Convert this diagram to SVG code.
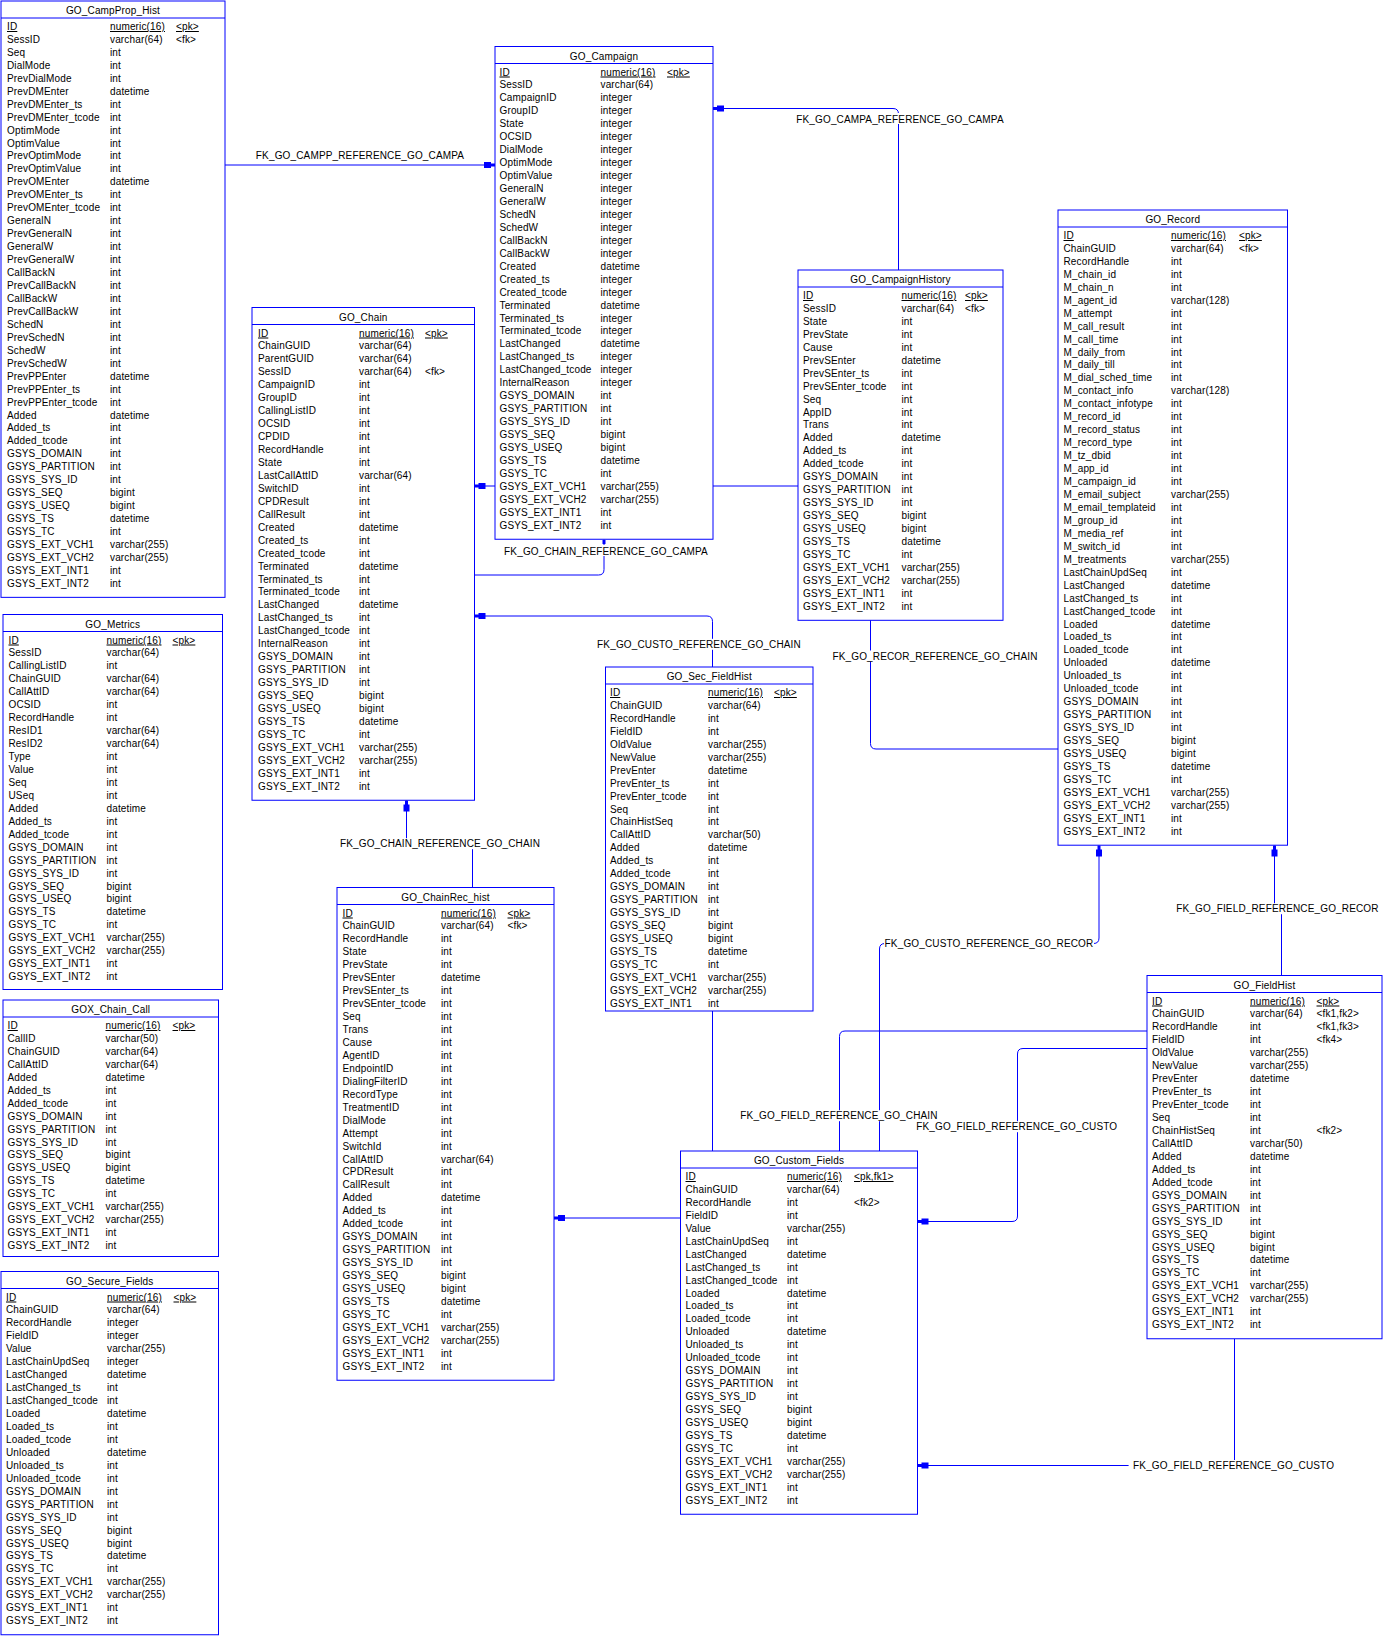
<svg xmlns="http://www.w3.org/2000/svg" width="1384" height="1638" viewBox="0 0 1384 1638">
<style>
.box{fill:#fff;stroke:#00f;stroke-width:1}
.hl{stroke:#00f;stroke-width:1}
text{font-family:"Liberation Sans",Arial,sans-serif;font-size:10px;letter-spacing:0.15px;fill:#000}
.t{text-anchor:middle}
.u{text-decoration:underline}
.cn{fill:none;stroke:#00f;stroke-width:1}
.lb{text-anchor:middle}
.bg{fill:#fff}
</style>
<defs>
<marker id="arr" markerUnits="userSpaceOnUse" markerWidth="12" markerHeight="8" refX="11" refY="4" orient="auto" viewBox="0 0 12 8">
<path d="M0,1 H7 V2.5 H11 V5.5 H7 V7 H0 Z" fill="#00f"/>
</marker>
</defs>
<rect width="1384" height="1638" fill="#fff"/>
<g id="connectors">
<path class="cn" d="M225,165 H495" marker-end="url(#arr)"/>
<path class="cn" d="M898.5,270 V114 Q898.5,108.5 893,108.5 H713" marker-end="url(#arr)"/>
<path class="cn" d="M474.5,575 H598.5 Q604,575 604,569.5 V539.5"/>
<rect x="602.5" y="540" width="3" height="4" fill="#00f"/>
<path class="cn" d="M1058,749 H876 Q870.5,749 870.5,743.5 V491.5 Q870.5,486 865,486 H474.5" marker-end="url(#arr)"/>
<path class="cn" d="M712.5,1151 V621.5 Q712.5,616 707,616 H474.5" marker-end="url(#arr)"/>
<path class="cn" d="M472.5,887.5 V843.5 H406.5 V800.5" marker-end="url(#arr)"/>
<path class="cn" d="M879.5,1151 V949 Q879.5,943.5 885,943.5 H1093.5 Q1099,943.5 1099,938 V845.5" marker-end="url(#arr)"/>
<path class="cn" d="M1147,1031 H845 Q839.5,1031 839.5,1036.5 V1212.5 Q839.5,1218 834,1218 H554" marker-end="url(#arr)"/>
<path class="cn" d="M1147,1048.5 H1023 Q1017.5,1048.5 1017.5,1054 V1216 Q1017.5,1221.5 1012,1221.5 H917.5" marker-end="url(#arr)"/>
<path class="cn" d="M1234.5,1339 V1465.5 H917.5" marker-end="url(#arr)"/>
<path class="cn" d="M1281.5,975.5 V908.5 H1274.5 V845.5" marker-end="url(#arr)"/>
<rect class="bg" x="795" y="113" width="210" height="11"/>
<rect class="bg" x="501" y="545" width="210" height="11"/>
<rect class="bg" x="830" y="650.5" width="210" height="11"/>
<rect class="bg" x="594" y="638.8" width="210" height="11"/>
<rect class="bg" x="335" y="838.2" width="210" height="11"/>
<rect class="bg" x="884" y="937.5" width="210" height="11"/>
<rect class="bg" x="734" y="1110.2" width="210" height="11"/>
<rect class="bg" x="911.7" y="1121.2" width="210" height="11"/>
<rect class="bg" x="1128.6" y="1460" width="210" height="11"/>
<rect class="bg" x="1172.5" y="903.2" width="210" height="11"/>
<text class="lb" x="360" y="159">FK_GO_CAMPP_REFERENCE_GO_CAMPA</text>
<text class="lb" x="900" y="122.5">FK_GO_CAMPA_REFERENCE_GO_CAMPA</text>
<text class="lb" x="606" y="554.5">FK_GO_CHAIN_REFERENCE_GO_CAMPA</text>
<text class="lb" x="935" y="659.5">FK_GO_RECOR_REFERENCE_GO_CHAIN</text>
<text class="lb" x="699" y="648">FK_GO_CUSTO_REFERENCE_GO_CHAIN</text>
<text class="lb" x="440" y="847.3">FK_GO_CHAIN_REFERENCE_GO_CHAIN</text>
<text class="lb" x="989" y="946.6">FK_GO_CUSTO_REFERENCE_GO_RECOR</text>
<text class="lb" x="839" y="1119.3">FK_GO_FIELD_REFERENCE_GO_CHAIN</text>
<text class="lb" x="1016.7" y="1130.3">FK_GO_FIELD_REFERENCE_GO_CUSTO</text>
<text class="lb" x="1233.6" y="1469">FK_GO_FIELD_REFERENCE_GO_CUSTO</text>
<text class="lb" x="1277.5" y="912.3">FK_GO_FIELD_REFERENCE_GO_RECOR</text>
</g>

<g id="GO_CampProp_Hist" transform="translate(1,1)">
<rect class="box" width="224" height="596.35"/>
<text class="t" x="112" y="13">GO_CampProp_Hist</text>
<line class="hl" x1="0" y1="17" x2="224" y2="17"/>
<text><tspan x="6" y="29" class="u">ID</tspan><tspan x="6" dy="12.95">SessID</tspan><tspan x="6" dy="12.95">Seq</tspan><tspan x="6" dy="12.95">DialMode</tspan><tspan x="6" dy="12.95">PrevDialMode</tspan><tspan x="6" dy="12.95">PrevDMEnter</tspan><tspan x="6" dy="12.95">PrevDMEnter_ts</tspan><tspan x="6" dy="12.95">PrevDMEnter_tcode</tspan><tspan x="6" dy="12.95">OptimMode</tspan><tspan x="6" dy="12.95">OptimValue</tspan><tspan x="6" dy="12.95">PrevOptimMode</tspan><tspan x="6" dy="12.95">PrevOptimValue</tspan><tspan x="6" dy="12.95">PrevOMEnter</tspan><tspan x="6" dy="12.95">PrevOMEnter_ts</tspan><tspan x="6" dy="12.95">PrevOMEnter_tcode</tspan><tspan x="6" dy="12.95">GeneralN</tspan><tspan x="6" dy="12.95">PrevGeneralN</tspan><tspan x="6" dy="12.95">GeneralW</tspan><tspan x="6" dy="12.95">PrevGeneralW</tspan><tspan x="6" dy="12.95">CallBackN</tspan><tspan x="6" dy="12.95">PrevCallBackN</tspan><tspan x="6" dy="12.95">CallBackW</tspan><tspan x="6" dy="12.95">PrevCallBackW</tspan><tspan x="6" dy="12.95">SchedN</tspan><tspan x="6" dy="12.95">PrevSchedN</tspan><tspan x="6" dy="12.95">SchedW</tspan><tspan x="6" dy="12.95">PrevSchedW</tspan><tspan x="6" dy="12.95">PrevPPEnter</tspan><tspan x="6" dy="12.95">PrevPPEnter_ts</tspan><tspan x="6" dy="12.95">PrevPPEnter_tcode</tspan><tspan x="6" dy="12.95">Added</tspan><tspan x="6" dy="12.95">Added_ts</tspan><tspan x="6" dy="12.95">Added_tcode</tspan><tspan x="6" dy="12.95">GSYS_DOMAIN</tspan><tspan x="6" dy="12.95">GSYS_PARTITION</tspan><tspan x="6" dy="12.95">GSYS_SYS_ID</tspan><tspan x="6" dy="12.95">GSYS_SEQ</tspan><tspan x="6" dy="12.95">GSYS_USEQ</tspan><tspan x="6" dy="12.95">GSYS_TS</tspan><tspan x="6" dy="12.95">GSYS_TC</tspan><tspan x="6" dy="12.95">GSYS_EXT_VCH1</tspan><tspan x="6" dy="12.95">GSYS_EXT_VCH2</tspan><tspan x="6" dy="12.95">GSYS_EXT_INT1</tspan><tspan x="6" dy="12.95">GSYS_EXT_INT2</tspan></text>
<text><tspan x="109" y="29" class="u">numeric(16)</tspan><tspan x="109" dy="12.95">varchar(64)</tspan><tspan x="109" dy="12.95">int</tspan><tspan x="109" dy="12.95">int</tspan><tspan x="109" dy="12.95">int</tspan><tspan x="109" dy="12.95">datetime</tspan><tspan x="109" dy="12.95">int</tspan><tspan x="109" dy="12.95">int</tspan><tspan x="109" dy="12.95">int</tspan><tspan x="109" dy="12.95">int</tspan><tspan x="109" dy="12.95">int</tspan><tspan x="109" dy="12.95">int</tspan><tspan x="109" dy="12.95">datetime</tspan><tspan x="109" dy="12.95">int</tspan><tspan x="109" dy="12.95">int</tspan><tspan x="109" dy="12.95">int</tspan><tspan x="109" dy="12.95">int</tspan><tspan x="109" dy="12.95">int</tspan><tspan x="109" dy="12.95">int</tspan><tspan x="109" dy="12.95">int</tspan><tspan x="109" dy="12.95">int</tspan><tspan x="109" dy="12.95">int</tspan><tspan x="109" dy="12.95">int</tspan><tspan x="109" dy="12.95">int</tspan><tspan x="109" dy="12.95">int</tspan><tspan x="109" dy="12.95">int</tspan><tspan x="109" dy="12.95">int</tspan><tspan x="109" dy="12.95">datetime</tspan><tspan x="109" dy="12.95">int</tspan><tspan x="109" dy="12.95">int</tspan><tspan x="109" dy="12.95">datetime</tspan><tspan x="109" dy="12.95">int</tspan><tspan x="109" dy="12.95">int</tspan><tspan x="109" dy="12.95">int</tspan><tspan x="109" dy="12.95">int</tspan><tspan x="109" dy="12.95">int</tspan><tspan x="109" dy="12.95">bigint</tspan><tspan x="109" dy="12.95">bigint</tspan><tspan x="109" dy="12.95">datetime</tspan><tspan x="109" dy="12.95">int</tspan><tspan x="109" dy="12.95">varchar(255)</tspan><tspan x="109" dy="12.95">varchar(255)</tspan><tspan x="109" dy="12.95">int</tspan><tspan x="109" dy="12.95">int</tspan></text>
<text><tspan x="175" y="29" class="u">&lt;pk&gt;</tspan><tspan x="175" y="41.95">&lt;fk&gt;</tspan></text>
</g>

<g id="GO_Campaign" transform="translate(495,46.5)">
<rect class="box" width="218" height="492.75"/>
<text class="t" x="109" y="13">GO_Campaign</text>
<line class="hl" x1="0" y1="17" x2="218" y2="17"/>
<text><tspan x="4.5" y="29" class="u">ID</tspan><tspan x="4.5" dy="12.95">SessID</tspan><tspan x="4.5" dy="12.95">CampaignID</tspan><tspan x="4.5" dy="12.95">GroupID</tspan><tspan x="4.5" dy="12.95">State</tspan><tspan x="4.5" dy="12.95">OCSID</tspan><tspan x="4.5" dy="12.95">DialMode</tspan><tspan x="4.5" dy="12.95">OptimMode</tspan><tspan x="4.5" dy="12.95">OptimValue</tspan><tspan x="4.5" dy="12.95">GeneralN</tspan><tspan x="4.5" dy="12.95">GeneralW</tspan><tspan x="4.5" dy="12.95">SchedN</tspan><tspan x="4.5" dy="12.95">SchedW</tspan><tspan x="4.5" dy="12.95">CallBackN</tspan><tspan x="4.5" dy="12.95">CallBackW</tspan><tspan x="4.5" dy="12.95">Created</tspan><tspan x="4.5" dy="12.95">Created_ts</tspan><tspan x="4.5" dy="12.95">Created_tcode</tspan><tspan x="4.5" dy="12.95">Terminated</tspan><tspan x="4.5" dy="12.95">Terminated_ts</tspan><tspan x="4.5" dy="12.95">Terminated_tcode</tspan><tspan x="4.5" dy="12.95">LastChanged</tspan><tspan x="4.5" dy="12.95">LastChanged_ts</tspan><tspan x="4.5" dy="12.95">LastChanged_tcode</tspan><tspan x="4.5" dy="12.95">InternalReason</tspan><tspan x="4.5" dy="12.95">GSYS_DOMAIN</tspan><tspan x="4.5" dy="12.95">GSYS_PARTITION</tspan><tspan x="4.5" dy="12.95">GSYS_SYS_ID</tspan><tspan x="4.5" dy="12.95">GSYS_SEQ</tspan><tspan x="4.5" dy="12.95">GSYS_USEQ</tspan><tspan x="4.5" dy="12.95">GSYS_TS</tspan><tspan x="4.5" dy="12.95">GSYS_TC</tspan><tspan x="4.5" dy="12.95">GSYS_EXT_VCH1</tspan><tspan x="4.5" dy="12.95">GSYS_EXT_VCH2</tspan><tspan x="4.5" dy="12.95">GSYS_EXT_INT1</tspan><tspan x="4.5" dy="12.95">GSYS_EXT_INT2</tspan></text>
<text><tspan x="105.5" y="29" class="u">numeric(16)</tspan><tspan x="105.5" dy="12.95">varchar(64)</tspan><tspan x="105.5" dy="12.95">integer</tspan><tspan x="105.5" dy="12.95">integer</tspan><tspan x="105.5" dy="12.95">integer</tspan><tspan x="105.5" dy="12.95">integer</tspan><tspan x="105.5" dy="12.95">integer</tspan><tspan x="105.5" dy="12.95">integer</tspan><tspan x="105.5" dy="12.95">integer</tspan><tspan x="105.5" dy="12.95">integer</tspan><tspan x="105.5" dy="12.95">integer</tspan><tspan x="105.5" dy="12.95">integer</tspan><tspan x="105.5" dy="12.95">integer</tspan><tspan x="105.5" dy="12.95">integer</tspan><tspan x="105.5" dy="12.95">integer</tspan><tspan x="105.5" dy="12.95">datetime</tspan><tspan x="105.5" dy="12.95">integer</tspan><tspan x="105.5" dy="12.95">integer</tspan><tspan x="105.5" dy="12.95">datetime</tspan><tspan x="105.5" dy="12.95">integer</tspan><tspan x="105.5" dy="12.95">integer</tspan><tspan x="105.5" dy="12.95">datetime</tspan><tspan x="105.5" dy="12.95">integer</tspan><tspan x="105.5" dy="12.95">integer</tspan><tspan x="105.5" dy="12.95">integer</tspan><tspan x="105.5" dy="12.95">int</tspan><tspan x="105.5" dy="12.95">int</tspan><tspan x="105.5" dy="12.95">int</tspan><tspan x="105.5" dy="12.95">bigint</tspan><tspan x="105.5" dy="12.95">bigint</tspan><tspan x="105.5" dy="12.95">datetime</tspan><tspan x="105.5" dy="12.95">int</tspan><tspan x="105.5" dy="12.95">varchar(255)</tspan><tspan x="105.5" dy="12.95">varchar(255)</tspan><tspan x="105.5" dy="12.95">int</tspan><tspan x="105.5" dy="12.95">int</tspan></text>
<text><tspan x="172" y="29" class="u">&lt;pk&gt;</tspan></text>
</g>

<g id="GO_Chain" transform="translate(252,307.5)">
<rect class="box" width="222.5" height="492.75"/>
<text class="t" x="111.25" y="13">GO_Chain</text>
<line class="hl" x1="0" y1="17" x2="222.5" y2="17"/>
<text><tspan x="6" y="29" class="u">ID</tspan><tspan x="6" dy="12.95">ChainGUID</tspan><tspan x="6" dy="12.95">ParentGUID</tspan><tspan x="6" dy="12.95">SessID</tspan><tspan x="6" dy="12.95">CampaignID</tspan><tspan x="6" dy="12.95">GroupID</tspan><tspan x="6" dy="12.95">CallingListID</tspan><tspan x="6" dy="12.95">OCSID</tspan><tspan x="6" dy="12.95">CPDID</tspan><tspan x="6" dy="12.95">RecordHandle</tspan><tspan x="6" dy="12.95">State</tspan><tspan x="6" dy="12.95">LastCallAttID</tspan><tspan x="6" dy="12.95">SwitchID</tspan><tspan x="6" dy="12.95">CPDResult</tspan><tspan x="6" dy="12.95">CallResult</tspan><tspan x="6" dy="12.95">Created</tspan><tspan x="6" dy="12.95">Created_ts</tspan><tspan x="6" dy="12.95">Created_tcode</tspan><tspan x="6" dy="12.95">Terminated</tspan><tspan x="6" dy="12.95">Terminated_ts</tspan><tspan x="6" dy="12.95">Terminated_tcode</tspan><tspan x="6" dy="12.95">LastChanged</tspan><tspan x="6" dy="12.95">LastChanged_ts</tspan><tspan x="6" dy="12.95">LastChanged_tcode</tspan><tspan x="6" dy="12.95">InternalReason</tspan><tspan x="6" dy="12.95">GSYS_DOMAIN</tspan><tspan x="6" dy="12.95">GSYS_PARTITION</tspan><tspan x="6" dy="12.95">GSYS_SYS_ID</tspan><tspan x="6" dy="12.95">GSYS_SEQ</tspan><tspan x="6" dy="12.95">GSYS_USEQ</tspan><tspan x="6" dy="12.95">GSYS_TS</tspan><tspan x="6" dy="12.95">GSYS_TC</tspan><tspan x="6" dy="12.95">GSYS_EXT_VCH1</tspan><tspan x="6" dy="12.95">GSYS_EXT_VCH2</tspan><tspan x="6" dy="12.95">GSYS_EXT_INT1</tspan><tspan x="6" dy="12.95">GSYS_EXT_INT2</tspan></text>
<text><tspan x="107" y="29" class="u">numeric(16)</tspan><tspan x="107" dy="12.95">varchar(64)</tspan><tspan x="107" dy="12.95">varchar(64)</tspan><tspan x="107" dy="12.95">varchar(64)</tspan><tspan x="107" dy="12.95">int</tspan><tspan x="107" dy="12.95">int</tspan><tspan x="107" dy="12.95">int</tspan><tspan x="107" dy="12.95">int</tspan><tspan x="107" dy="12.95">int</tspan><tspan x="107" dy="12.95">int</tspan><tspan x="107" dy="12.95">int</tspan><tspan x="107" dy="12.95">varchar(64)</tspan><tspan x="107" dy="12.95">int</tspan><tspan x="107" dy="12.95">int</tspan><tspan x="107" dy="12.95">int</tspan><tspan x="107" dy="12.95">datetime</tspan><tspan x="107" dy="12.95">int</tspan><tspan x="107" dy="12.95">int</tspan><tspan x="107" dy="12.95">datetime</tspan><tspan x="107" dy="12.95">int</tspan><tspan x="107" dy="12.95">int</tspan><tspan x="107" dy="12.95">datetime</tspan><tspan x="107" dy="12.95">int</tspan><tspan x="107" dy="12.95">int</tspan><tspan x="107" dy="12.95">int</tspan><tspan x="107" dy="12.95">int</tspan><tspan x="107" dy="12.95">int</tspan><tspan x="107" dy="12.95">int</tspan><tspan x="107" dy="12.95">bigint</tspan><tspan x="107" dy="12.95">bigint</tspan><tspan x="107" dy="12.95">datetime</tspan><tspan x="107" dy="12.95">int</tspan><tspan x="107" dy="12.95">varchar(255)</tspan><tspan x="107" dy="12.95">varchar(255)</tspan><tspan x="107" dy="12.95">int</tspan><tspan x="107" dy="12.95">int</tspan></text>
<text><tspan x="173" y="29" class="u">&lt;pk&gt;</tspan><tspan x="173" y="67.85">&lt;fk&gt;</tspan></text>
</g>

<g id="GO_Metrics" transform="translate(3,614.5)">
<rect class="box" width="219.5" height="375"/>
<text class="t" x="109.75" y="13">GO_Metrics</text>
<line class="hl" x1="0" y1="17" x2="219.5" y2="17"/>
<text><tspan x="5.5" y="29" class="u">ID</tspan><tspan x="5.5" dy="12.95">SessID</tspan><tspan x="5.5" dy="12.95">CallingListID</tspan><tspan x="5.5" dy="12.95">ChainGUID</tspan><tspan x="5.5" dy="12.95">CallAttID</tspan><tspan x="5.5" dy="12.95">OCSID</tspan><tspan x="5.5" dy="12.95">RecordHandle</tspan><tspan x="5.5" dy="12.95">ResID1</tspan><tspan x="5.5" dy="12.95">ResID2</tspan><tspan x="5.5" dy="12.95">Type</tspan><tspan x="5.5" dy="12.95">Value</tspan><tspan x="5.5" dy="12.95">Seq</tspan><tspan x="5.5" dy="12.95">USeq</tspan><tspan x="5.5" dy="12.95">Added</tspan><tspan x="5.5" dy="12.95">Added_ts</tspan><tspan x="5.5" dy="12.95">Added_tcode</tspan><tspan x="5.5" dy="12.95">GSYS_DOMAIN</tspan><tspan x="5.5" dy="12.95">GSYS_PARTITION</tspan><tspan x="5.5" dy="12.95">GSYS_SYS_ID</tspan><tspan x="5.5" dy="12.95">GSYS_SEQ</tspan><tspan x="5.5" dy="12.95">GSYS_USEQ</tspan><tspan x="5.5" dy="12.95">GSYS_TS</tspan><tspan x="5.5" dy="12.95">GSYS_TC</tspan><tspan x="5.5" dy="12.95">GSYS_EXT_VCH1</tspan><tspan x="5.5" dy="12.95">GSYS_EXT_VCH2</tspan><tspan x="5.5" dy="12.95">GSYS_EXT_INT1</tspan><tspan x="5.5" dy="12.95">GSYS_EXT_INT2</tspan></text>
<text><tspan x="103.5" y="29" class="u">numeric(16)</tspan><tspan x="103.5" dy="12.95">varchar(64)</tspan><tspan x="103.5" dy="12.95">int</tspan><tspan x="103.5" dy="12.95">varchar(64)</tspan><tspan x="103.5" dy="12.95">varchar(64)</tspan><tspan x="103.5" dy="12.95">int</tspan><tspan x="103.5" dy="12.95">int</tspan><tspan x="103.5" dy="12.95">varchar(64)</tspan><tspan x="103.5" dy="12.95">varchar(64)</tspan><tspan x="103.5" dy="12.95">int</tspan><tspan x="103.5" dy="12.95">int</tspan><tspan x="103.5" dy="12.95">int</tspan><tspan x="103.5" dy="12.95">int</tspan><tspan x="103.5" dy="12.95">datetime</tspan><tspan x="103.5" dy="12.95">int</tspan><tspan x="103.5" dy="12.95">int</tspan><tspan x="103.5" dy="12.95">int</tspan><tspan x="103.5" dy="12.95">int</tspan><tspan x="103.5" dy="12.95">int</tspan><tspan x="103.5" dy="12.95">bigint</tspan><tspan x="103.5" dy="12.95">bigint</tspan><tspan x="103.5" dy="12.95">datetime</tspan><tspan x="103.5" dy="12.95">int</tspan><tspan x="103.5" dy="12.95">varchar(255)</tspan><tspan x="103.5" dy="12.95">varchar(255)</tspan><tspan x="103.5" dy="12.95">int</tspan><tspan x="103.5" dy="12.95">int</tspan></text>
<text><tspan x="169.5" y="29" class="u">&lt;pk&gt;</tspan></text>
</g>

<g id="GOX_Chain_Call" transform="translate(3,1000)">
<rect class="box" width="215.5" height="256.5"/>
<text class="t" x="107.75" y="13">GOX_Chain_Call</text>
<line class="hl" x1="0" y1="17" x2="215.5" y2="17"/>
<text><tspan x="4.5" y="29" class="u">ID</tspan><tspan x="4.5" dy="12.95">CallID</tspan><tspan x="4.5" dy="12.95">ChainGUID</tspan><tspan x="4.5" dy="12.95">CallAttID</tspan><tspan x="4.5" dy="12.95">Added</tspan><tspan x="4.5" dy="12.95">Added_ts</tspan><tspan x="4.5" dy="12.95">Added_tcode</tspan><tspan x="4.5" dy="12.95">GSYS_DOMAIN</tspan><tspan x="4.5" dy="12.95">GSYS_PARTITION</tspan><tspan x="4.5" dy="12.95">GSYS_SYS_ID</tspan><tspan x="4.5" dy="12.95">GSYS_SEQ</tspan><tspan x="4.5" dy="12.95">GSYS_USEQ</tspan><tspan x="4.5" dy="12.95">GSYS_TS</tspan><tspan x="4.5" dy="12.95">GSYS_TC</tspan><tspan x="4.5" dy="12.95">GSYS_EXT_VCH1</tspan><tspan x="4.5" dy="12.95">GSYS_EXT_VCH2</tspan><tspan x="4.5" dy="12.95">GSYS_EXT_INT1</tspan><tspan x="4.5" dy="12.95">GSYS_EXT_INT2</tspan></text>
<text><tspan x="102.5" y="29" class="u">numeric(16)</tspan><tspan x="102.5" dy="12.95">varchar(50)</tspan><tspan x="102.5" dy="12.95">varchar(64)</tspan><tspan x="102.5" dy="12.95">varchar(64)</tspan><tspan x="102.5" dy="12.95">datetime</tspan><tspan x="102.5" dy="12.95">int</tspan><tspan x="102.5" dy="12.95">int</tspan><tspan x="102.5" dy="12.95">int</tspan><tspan x="102.5" dy="12.95">int</tspan><tspan x="102.5" dy="12.95">int</tspan><tspan x="102.5" dy="12.95">bigint</tspan><tspan x="102.5" dy="12.95">bigint</tspan><tspan x="102.5" dy="12.95">datetime</tspan><tspan x="102.5" dy="12.95">int</tspan><tspan x="102.5" dy="12.95">varchar(255)</tspan><tspan x="102.5" dy="12.95">varchar(255)</tspan><tspan x="102.5" dy="12.95">int</tspan><tspan x="102.5" dy="12.95">int</tspan></text>
<text><tspan x="169.5" y="29" class="u">&lt;pk&gt;</tspan></text>
</g>

<g id="GO_Secure_Fields" transform="translate(1,1271.5)">
<rect class="box" width="217.5" height="363.25"/>
<text class="t" x="108.75" y="13">GO_Secure_Fields</text>
<line class="hl" x1="0" y1="17" x2="217.5" y2="17"/>
<text><tspan x="5" y="29" class="u">ID</tspan><tspan x="5" dy="12.95">ChainGUID</tspan><tspan x="5" dy="12.95">RecordHandle</tspan><tspan x="5" dy="12.95">FieldID</tspan><tspan x="5" dy="12.95">Value</tspan><tspan x="5" dy="12.95">LastChainUpdSeq</tspan><tspan x="5" dy="12.95">LastChanged</tspan><tspan x="5" dy="12.95">LastChanged_ts</tspan><tspan x="5" dy="12.95">LastChanged_tcode</tspan><tspan x="5" dy="12.95">Loaded</tspan><tspan x="5" dy="12.95">Loaded_ts</tspan><tspan x="5" dy="12.95">Loaded_tcode</tspan><tspan x="5" dy="12.95">Unloaded</tspan><tspan x="5" dy="12.95">Unloaded_ts</tspan><tspan x="5" dy="12.95">Unloaded_tcode</tspan><tspan x="5" dy="12.95">GSYS_DOMAIN</tspan><tspan x="5" dy="12.95">GSYS_PARTITION</tspan><tspan x="5" dy="12.95">GSYS_SYS_ID</tspan><tspan x="5" dy="12.95">GSYS_SEQ</tspan><tspan x="5" dy="12.95">GSYS_USEQ</tspan><tspan x="5" dy="12.95">GSYS_TS</tspan><tspan x="5" dy="12.95">GSYS_TC</tspan><tspan x="5" dy="12.95">GSYS_EXT_VCH1</tspan><tspan x="5" dy="12.95">GSYS_EXT_VCH2</tspan><tspan x="5" dy="12.95">GSYS_EXT_INT1</tspan><tspan x="5" dy="12.95">GSYS_EXT_INT2</tspan></text>
<text><tspan x="106" y="29" class="u">numeric(16)</tspan><tspan x="106" dy="12.95">varchar(64)</tspan><tspan x="106" dy="12.95">integer</tspan><tspan x="106" dy="12.95">integer</tspan><tspan x="106" dy="12.95">varchar(255)</tspan><tspan x="106" dy="12.95">integer</tspan><tspan x="106" dy="12.95">datetime</tspan><tspan x="106" dy="12.95">int</tspan><tspan x="106" dy="12.95">int</tspan><tspan x="106" dy="12.95">datetime</tspan><tspan x="106" dy="12.95">int</tspan><tspan x="106" dy="12.95">int</tspan><tspan x="106" dy="12.95">datetime</tspan><tspan x="106" dy="12.95">int</tspan><tspan x="106" dy="12.95">int</tspan><tspan x="106" dy="12.95">int</tspan><tspan x="106" dy="12.95">int</tspan><tspan x="106" dy="12.95">int</tspan><tspan x="106" dy="12.95">bigint</tspan><tspan x="106" dy="12.95">bigint</tspan><tspan x="106" dy="12.95">datetime</tspan><tspan x="106" dy="12.95">int</tspan><tspan x="106" dy="12.95">varchar(255)</tspan><tspan x="106" dy="12.95">varchar(255)</tspan><tspan x="106" dy="12.95">int</tspan><tspan x="106" dy="12.95">int</tspan></text>
<text><tspan x="172.5" y="29" class="u">&lt;pk&gt;</tspan></text>
</g>

<g id="GO_CampaignHistory" transform="translate(798,270)">
<rect class="box" width="205" height="350.3"/>
<text class="t" x="102.5" y="13">GO_CampaignHistory</text>
<line class="hl" x1="0" y1="17" x2="205" y2="17"/>
<text><tspan x="5" y="29" class="u">ID</tspan><tspan x="5" dy="12.95">SessID</tspan><tspan x="5" dy="12.95">State</tspan><tspan x="5" dy="12.95">PrevState</tspan><tspan x="5" dy="12.95">Cause</tspan><tspan x="5" dy="12.95">PrevSEnter</tspan><tspan x="5" dy="12.95">PrevSEnter_ts</tspan><tspan x="5" dy="12.95">PrevSEnter_tcode</tspan><tspan x="5" dy="12.95">Seq</tspan><tspan x="5" dy="12.95">AppID</tspan><tspan x="5" dy="12.95">Trans</tspan><tspan x="5" dy="12.95">Added</tspan><tspan x="5" dy="12.95">Added_ts</tspan><tspan x="5" dy="12.95">Added_tcode</tspan><tspan x="5" dy="12.95">GSYS_DOMAIN</tspan><tspan x="5" dy="12.95">GSYS_PARTITION</tspan><tspan x="5" dy="12.95">GSYS_SYS_ID</tspan><tspan x="5" dy="12.95">GSYS_SEQ</tspan><tspan x="5" dy="12.95">GSYS_USEQ</tspan><tspan x="5" dy="12.95">GSYS_TS</tspan><tspan x="5" dy="12.95">GSYS_TC</tspan><tspan x="5" dy="12.95">GSYS_EXT_VCH1</tspan><tspan x="5" dy="12.95">GSYS_EXT_VCH2</tspan><tspan x="5" dy="12.95">GSYS_EXT_INT1</tspan><tspan x="5" dy="12.95">GSYS_EXT_INT2</tspan></text>
<text><tspan x="103.5" y="29" class="u">numeric(16)</tspan><tspan x="103.5" dy="12.95">varchar(64)</tspan><tspan x="103.5" dy="12.95">int</tspan><tspan x="103.5" dy="12.95">int</tspan><tspan x="103.5" dy="12.95">int</tspan><tspan x="103.5" dy="12.95">datetime</tspan><tspan x="103.5" dy="12.95">int</tspan><tspan x="103.5" dy="12.95">int</tspan><tspan x="103.5" dy="12.95">int</tspan><tspan x="103.5" dy="12.95">int</tspan><tspan x="103.5" dy="12.95">int</tspan><tspan x="103.5" dy="12.95">datetime</tspan><tspan x="103.5" dy="12.95">int</tspan><tspan x="103.5" dy="12.95">int</tspan><tspan x="103.5" dy="12.95">int</tspan><tspan x="103.5" dy="12.95">int</tspan><tspan x="103.5" dy="12.95">int</tspan><tspan x="103.5" dy="12.95">bigint</tspan><tspan x="103.5" dy="12.95">bigint</tspan><tspan x="103.5" dy="12.95">datetime</tspan><tspan x="103.5" dy="12.95">int</tspan><tspan x="103.5" dy="12.95">varchar(255)</tspan><tspan x="103.5" dy="12.95">varchar(255)</tspan><tspan x="103.5" dy="12.95">int</tspan><tspan x="103.5" dy="12.95">int</tspan></text>
<text><tspan x="167" y="29" class="u">&lt;pk&gt;</tspan><tspan x="167" y="41.95">&lt;fk&gt;</tspan></text>
</g>

<g id="GO_Record" transform="translate(1058,210)">
<rect class="box" width="229.5" height="635.2"/>
<text class="t" x="114.75" y="13">GO_Record</text>
<line class="hl" x1="0" y1="17" x2="229.5" y2="17"/>
<text><tspan x="5.5" y="29" class="u">ID</tspan><tspan x="5.5" dy="12.95">ChainGUID</tspan><tspan x="5.5" dy="12.95">RecordHandle</tspan><tspan x="5.5" dy="12.95">M_chain_id</tspan><tspan x="5.5" dy="12.95">M_chain_n</tspan><tspan x="5.5" dy="12.95">M_agent_id</tspan><tspan x="5.5" dy="12.95">M_attempt</tspan><tspan x="5.5" dy="12.95">M_call_result</tspan><tspan x="5.5" dy="12.95">M_call_time</tspan><tspan x="5.5" dy="12.95">M_daily_from</tspan><tspan x="5.5" dy="12.95">M_daily_till</tspan><tspan x="5.5" dy="12.95">M_dial_sched_time</tspan><tspan x="5.5" dy="12.95">M_contact_info</tspan><tspan x="5.5" dy="12.95">M_contact_infotype</tspan><tspan x="5.5" dy="12.95">M_record_id</tspan><tspan x="5.5" dy="12.95">M_record_status</tspan><tspan x="5.5" dy="12.95">M_record_type</tspan><tspan x="5.5" dy="12.95">M_tz_dbid</tspan><tspan x="5.5" dy="12.95">M_app_id</tspan><tspan x="5.5" dy="12.95">M_campaign_id</tspan><tspan x="5.5" dy="12.95">M_email_subject</tspan><tspan x="5.5" dy="12.95">M_email_templateid</tspan><tspan x="5.5" dy="12.95">M_group_id</tspan><tspan x="5.5" dy="12.95">M_media_ref</tspan><tspan x="5.5" dy="12.95">M_switch_id</tspan><tspan x="5.5" dy="12.95">M_treatments</tspan><tspan x="5.5" dy="12.95">LastChainUpdSeq</tspan><tspan x="5.5" dy="12.95">LastChanged</tspan><tspan x="5.5" dy="12.95">LastChanged_ts</tspan><tspan x="5.5" dy="12.95">LastChanged_tcode</tspan><tspan x="5.5" dy="12.95">Loaded</tspan><tspan x="5.5" dy="12.95">Loaded_ts</tspan><tspan x="5.5" dy="12.95">Loaded_tcode</tspan><tspan x="5.5" dy="12.95">Unloaded</tspan><tspan x="5.5" dy="12.95">Unloaded_ts</tspan><tspan x="5.5" dy="12.95">Unloaded_tcode</tspan><tspan x="5.5" dy="12.95">GSYS_DOMAIN</tspan><tspan x="5.5" dy="12.95">GSYS_PARTITION</tspan><tspan x="5.5" dy="12.95">GSYS_SYS_ID</tspan><tspan x="5.5" dy="12.95">GSYS_SEQ</tspan><tspan x="5.5" dy="12.95">GSYS_USEQ</tspan><tspan x="5.5" dy="12.95">GSYS_TS</tspan><tspan x="5.5" dy="12.95">GSYS_TC</tspan><tspan x="5.5" dy="12.95">GSYS_EXT_VCH1</tspan><tspan x="5.5" dy="12.95">GSYS_EXT_VCH2</tspan><tspan x="5.5" dy="12.95">GSYS_EXT_INT1</tspan><tspan x="5.5" dy="12.95">GSYS_EXT_INT2</tspan></text>
<text><tspan x="113" y="29" class="u">numeric(16)</tspan><tspan x="113" dy="12.95">varchar(64)</tspan><tspan x="113" dy="12.95">int</tspan><tspan x="113" dy="12.95">int</tspan><tspan x="113" dy="12.95">int</tspan><tspan x="113" dy="12.95">varchar(128)</tspan><tspan x="113" dy="12.95">int</tspan><tspan x="113" dy="12.95">int</tspan><tspan x="113" dy="12.95">int</tspan><tspan x="113" dy="12.95">int</tspan><tspan x="113" dy="12.95">int</tspan><tspan x="113" dy="12.95">int</tspan><tspan x="113" dy="12.95">varchar(128)</tspan><tspan x="113" dy="12.95">int</tspan><tspan x="113" dy="12.95">int</tspan><tspan x="113" dy="12.95">int</tspan><tspan x="113" dy="12.95">int</tspan><tspan x="113" dy="12.95">int</tspan><tspan x="113" dy="12.95">int</tspan><tspan x="113" dy="12.95">int</tspan><tspan x="113" dy="12.95">varchar(255)</tspan><tspan x="113" dy="12.95">int</tspan><tspan x="113" dy="12.95">int</tspan><tspan x="113" dy="12.95">int</tspan><tspan x="113" dy="12.95">int</tspan><tspan x="113" dy="12.95">varchar(255)</tspan><tspan x="113" dy="12.95">int</tspan><tspan x="113" dy="12.95">datetime</tspan><tspan x="113" dy="12.95">int</tspan><tspan x="113" dy="12.95">int</tspan><tspan x="113" dy="12.95">datetime</tspan><tspan x="113" dy="12.95">int</tspan><tspan x="113" dy="12.95">int</tspan><tspan x="113" dy="12.95">datetime</tspan><tspan x="113" dy="12.95">int</tspan><tspan x="113" dy="12.95">int</tspan><tspan x="113" dy="12.95">int</tspan><tspan x="113" dy="12.95">int</tspan><tspan x="113" dy="12.95">int</tspan><tspan x="113" dy="12.95">bigint</tspan><tspan x="113" dy="12.95">bigint</tspan><tspan x="113" dy="12.95">datetime</tspan><tspan x="113" dy="12.95">int</tspan><tspan x="113" dy="12.95">varchar(255)</tspan><tspan x="113" dy="12.95">varchar(255)</tspan><tspan x="113" dy="12.95">int</tspan><tspan x="113" dy="12.95">int</tspan></text>
<text><tspan x="181" y="29" class="u">&lt;pk&gt;</tspan><tspan x="181" y="41.95">&lt;fk&gt;</tspan></text>
</g>

<g id="GO_Sec_FieldHist" transform="translate(605.5,667)">
<rect class="box" width="207.5" height="344"/>
<text class="t" x="103.75" y="13">GO_Sec_FieldHist</text>
<line class="hl" x1="0" y1="17" x2="207.5" y2="17"/>
<text><tspan x="4.5" y="29" class="u">ID</tspan><tspan x="4.5" dy="12.95">ChainGUID</tspan><tspan x="4.5" dy="12.95">RecordHandle</tspan><tspan x="4.5" dy="12.95">FieldID</tspan><tspan x="4.5" dy="12.95">OldValue</tspan><tspan x="4.5" dy="12.95">NewValue</tspan><tspan x="4.5" dy="12.95">PrevEnter</tspan><tspan x="4.5" dy="12.95">PrevEnter_ts</tspan><tspan x="4.5" dy="12.95">PrevEnter_tcode</tspan><tspan x="4.5" dy="12.95">Seq</tspan><tspan x="4.5" dy="12.95">ChainHistSeq</tspan><tspan x="4.5" dy="12.95">CallAttID</tspan><tspan x="4.5" dy="12.95">Added</tspan><tspan x="4.5" dy="12.95">Added_ts</tspan><tspan x="4.5" dy="12.95">Added_tcode</tspan><tspan x="4.5" dy="12.95">GSYS_DOMAIN</tspan><tspan x="4.5" dy="12.95">GSYS_PARTITION</tspan><tspan x="4.5" dy="12.95">GSYS_SYS_ID</tspan><tspan x="4.5" dy="12.95">GSYS_SEQ</tspan><tspan x="4.5" dy="12.95">GSYS_USEQ</tspan><tspan x="4.5" dy="12.95">GSYS_TS</tspan><tspan x="4.5" dy="12.95">GSYS_TC</tspan><tspan x="4.5" dy="12.95">GSYS_EXT_VCH1</tspan><tspan x="4.5" dy="12.95">GSYS_EXT_VCH2</tspan><tspan x="4.5" dy="12.95">GSYS_EXT_INT1</tspan></text>
<text><tspan x="102.5" y="29" class="u">numeric(16)</tspan><tspan x="102.5" dy="12.95">varchar(64)</tspan><tspan x="102.5" dy="12.95">int</tspan><tspan x="102.5" dy="12.95">int</tspan><tspan x="102.5" dy="12.95">varchar(255)</tspan><tspan x="102.5" dy="12.95">varchar(255)</tspan><tspan x="102.5" dy="12.95">datetime</tspan><tspan x="102.5" dy="12.95">int</tspan><tspan x="102.5" dy="12.95">int</tspan><tspan x="102.5" dy="12.95">int</tspan><tspan x="102.5" dy="12.95">int</tspan><tspan x="102.5" dy="12.95">varchar(50)</tspan><tspan x="102.5" dy="12.95">datetime</tspan><tspan x="102.5" dy="12.95">int</tspan><tspan x="102.5" dy="12.95">int</tspan><tspan x="102.5" dy="12.95">int</tspan><tspan x="102.5" dy="12.95">int</tspan><tspan x="102.5" dy="12.95">int</tspan><tspan x="102.5" dy="12.95">bigint</tspan><tspan x="102.5" dy="12.95">bigint</tspan><tspan x="102.5" dy="12.95">datetime</tspan><tspan x="102.5" dy="12.95">int</tspan><tspan x="102.5" dy="12.95">varchar(255)</tspan><tspan x="102.5" dy="12.95">varchar(255)</tspan><tspan x="102.5" dy="12.95">int</tspan></text>
<text><tspan x="168.5" y="29" class="u">&lt;pk&gt;</tspan></text>
</g>

<g id="GO_ChainRec_hist" transform="translate(337,887.5)">
<rect class="box" width="217" height="492.75"/>
<text class="t" x="108.5" y="13">GO_ChainRec_hist</text>
<line class="hl" x1="0" y1="17" x2="217" y2="17"/>
<text><tspan x="5.5" y="29" class="u">ID</tspan><tspan x="5.5" dy="12.95">ChainGUID</tspan><tspan x="5.5" dy="12.95">RecordHandle</tspan><tspan x="5.5" dy="12.95">State</tspan><tspan x="5.5" dy="12.95">PrevState</tspan><tspan x="5.5" dy="12.95">PrevSEnter</tspan><tspan x="5.5" dy="12.95">PrevSEnter_ts</tspan><tspan x="5.5" dy="12.95">PrevSEnter_tcode</tspan><tspan x="5.5" dy="12.95">Seq</tspan><tspan x="5.5" dy="12.95">Trans</tspan><tspan x="5.5" dy="12.95">Cause</tspan><tspan x="5.5" dy="12.95">AgentID</tspan><tspan x="5.5" dy="12.95">EndpointID</tspan><tspan x="5.5" dy="12.95">DialingFilterID</tspan><tspan x="5.5" dy="12.95">RecordType</tspan><tspan x="5.5" dy="12.95">TreatmentID</tspan><tspan x="5.5" dy="12.95">DialMode</tspan><tspan x="5.5" dy="12.95">Attempt</tspan><tspan x="5.5" dy="12.95">SwitchId</tspan><tspan x="5.5" dy="12.95">CallAttID</tspan><tspan x="5.5" dy="12.95">CPDResult</tspan><tspan x="5.5" dy="12.95">CallResult</tspan><tspan x="5.5" dy="12.95">Added</tspan><tspan x="5.5" dy="12.95">Added_ts</tspan><tspan x="5.5" dy="12.95">Added_tcode</tspan><tspan x="5.5" dy="12.95">GSYS_DOMAIN</tspan><tspan x="5.5" dy="12.95">GSYS_PARTITION</tspan><tspan x="5.5" dy="12.95">GSYS_SYS_ID</tspan><tspan x="5.5" dy="12.95">GSYS_SEQ</tspan><tspan x="5.5" dy="12.95">GSYS_USEQ</tspan><tspan x="5.5" dy="12.95">GSYS_TS</tspan><tspan x="5.5" dy="12.95">GSYS_TC</tspan><tspan x="5.5" dy="12.95">GSYS_EXT_VCH1</tspan><tspan x="5.5" dy="12.95">GSYS_EXT_VCH2</tspan><tspan x="5.5" dy="12.95">GSYS_EXT_INT1</tspan><tspan x="5.5" dy="12.95">GSYS_EXT_INT2</tspan></text>
<text><tspan x="104" y="29" class="u">numeric(16)</tspan><tspan x="104" dy="12.95">varchar(64)</tspan><tspan x="104" dy="12.95">int</tspan><tspan x="104" dy="12.95">int</tspan><tspan x="104" dy="12.95">int</tspan><tspan x="104" dy="12.95">datetime</tspan><tspan x="104" dy="12.95">int</tspan><tspan x="104" dy="12.95">int</tspan><tspan x="104" dy="12.95">int</tspan><tspan x="104" dy="12.95">int</tspan><tspan x="104" dy="12.95">int</tspan><tspan x="104" dy="12.95">int</tspan><tspan x="104" dy="12.95">int</tspan><tspan x="104" dy="12.95">int</tspan><tspan x="104" dy="12.95">int</tspan><tspan x="104" dy="12.95">int</tspan><tspan x="104" dy="12.95">int</tspan><tspan x="104" dy="12.95">int</tspan><tspan x="104" dy="12.95">int</tspan><tspan x="104" dy="12.95">varchar(64)</tspan><tspan x="104" dy="12.95">int</tspan><tspan x="104" dy="12.95">int</tspan><tspan x="104" dy="12.95">datetime</tspan><tspan x="104" dy="12.95">int</tspan><tspan x="104" dy="12.95">int</tspan><tspan x="104" dy="12.95">int</tspan><tspan x="104" dy="12.95">int</tspan><tspan x="104" dy="12.95">int</tspan><tspan x="104" dy="12.95">bigint</tspan><tspan x="104" dy="12.95">bigint</tspan><tspan x="104" dy="12.95">datetime</tspan><tspan x="104" dy="12.95">int</tspan><tspan x="104" dy="12.95">varchar(255)</tspan><tspan x="104" dy="12.95">varchar(255)</tspan><tspan x="104" dy="12.95">int</tspan><tspan x="104" dy="12.95">int</tspan></text>
<text><tspan x="170.5" y="29" class="u">&lt;pk&gt;</tspan><tspan x="170.5" y="41.95">&lt;fk&gt;</tspan></text>
</g>

<g id="GO_FieldHist" transform="translate(1147,975.5)">
<rect class="box" width="235" height="363.25"/>
<text class="t" x="117.5" y="13">GO_FieldHist</text>
<line class="hl" x1="0" y1="17" x2="235" y2="17"/>
<text><tspan x="5" y="29" class="u">ID</tspan><tspan x="5" dy="12.95">ChainGUID</tspan><tspan x="5" dy="12.95">RecordHandle</tspan><tspan x="5" dy="12.95">FieldID</tspan><tspan x="5" dy="12.95">OldValue</tspan><tspan x="5" dy="12.95">NewValue</tspan><tspan x="5" dy="12.95">PrevEnter</tspan><tspan x="5" dy="12.95">PrevEnter_ts</tspan><tspan x="5" dy="12.95">PrevEnter_tcode</tspan><tspan x="5" dy="12.95">Seq</tspan><tspan x="5" dy="12.95">ChainHistSeq</tspan><tspan x="5" dy="12.95">CallAttID</tspan><tspan x="5" dy="12.95">Added</tspan><tspan x="5" dy="12.95">Added_ts</tspan><tspan x="5" dy="12.95">Added_tcode</tspan><tspan x="5" dy="12.95">GSYS_DOMAIN</tspan><tspan x="5" dy="12.95">GSYS_PARTITION</tspan><tspan x="5" dy="12.95">GSYS_SYS_ID</tspan><tspan x="5" dy="12.95">GSYS_SEQ</tspan><tspan x="5" dy="12.95">GSYS_USEQ</tspan><tspan x="5" dy="12.95">GSYS_TS</tspan><tspan x="5" dy="12.95">GSYS_TC</tspan><tspan x="5" dy="12.95">GSYS_EXT_VCH1</tspan><tspan x="5" dy="12.95">GSYS_EXT_VCH2</tspan><tspan x="5" dy="12.95">GSYS_EXT_INT1</tspan><tspan x="5" dy="12.95">GSYS_EXT_INT2</tspan></text>
<text><tspan x="103" y="29" class="u">numeric(16)</tspan><tspan x="103" dy="12.95">varchar(64)</tspan><tspan x="103" dy="12.95">int</tspan><tspan x="103" dy="12.95">int</tspan><tspan x="103" dy="12.95">varchar(255)</tspan><tspan x="103" dy="12.95">varchar(255)</tspan><tspan x="103" dy="12.95">datetime</tspan><tspan x="103" dy="12.95">int</tspan><tspan x="103" dy="12.95">int</tspan><tspan x="103" dy="12.95">int</tspan><tspan x="103" dy="12.95">int</tspan><tspan x="103" dy="12.95">varchar(50)</tspan><tspan x="103" dy="12.95">datetime</tspan><tspan x="103" dy="12.95">int</tspan><tspan x="103" dy="12.95">int</tspan><tspan x="103" dy="12.95">int</tspan><tspan x="103" dy="12.95">int</tspan><tspan x="103" dy="12.95">int</tspan><tspan x="103" dy="12.95">bigint</tspan><tspan x="103" dy="12.95">bigint</tspan><tspan x="103" dy="12.95">datetime</tspan><tspan x="103" dy="12.95">int</tspan><tspan x="103" dy="12.95">varchar(255)</tspan><tspan x="103" dy="12.95">varchar(255)</tspan><tspan x="103" dy="12.95">int</tspan><tspan x="103" dy="12.95">int</tspan></text>
<text><tspan x="169.5" y="29" class="u">&lt;pk&gt;</tspan><tspan x="169.5" y="41.95">&lt;fk1,fk2&gt;</tspan><tspan x="169.5" y="54.9">&lt;fk1,fk3&gt;</tspan><tspan x="169.5" y="67.85">&lt;fk4&gt;</tspan><tspan x="169.5" y="158.5">&lt;fk2&gt;</tspan></text>
</g>

<g id="GO_Custom_Fields" transform="translate(680.5,1151)">
<rect class="box" width="237" height="363.25"/>
<text class="t" x="118.5" y="13">GO_Custom_Fields</text>
<line class="hl" x1="0" y1="17" x2="237" y2="17"/>
<text><tspan x="5" y="29" class="u">ID</tspan><tspan x="5" dy="12.95">ChainGUID</tspan><tspan x="5" dy="12.95">RecordHandle</tspan><tspan x="5" dy="12.95">FieldID</tspan><tspan x="5" dy="12.95">Value</tspan><tspan x="5" dy="12.95">LastChainUpdSeq</tspan><tspan x="5" dy="12.95">LastChanged</tspan><tspan x="5" dy="12.95">LastChanged_ts</tspan><tspan x="5" dy="12.95">LastChanged_tcode</tspan><tspan x="5" dy="12.95">Loaded</tspan><tspan x="5" dy="12.95">Loaded_ts</tspan><tspan x="5" dy="12.95">Loaded_tcode</tspan><tspan x="5" dy="12.95">Unloaded</tspan><tspan x="5" dy="12.95">Unloaded_ts</tspan><tspan x="5" dy="12.95">Unloaded_tcode</tspan><tspan x="5" dy="12.95">GSYS_DOMAIN</tspan><tspan x="5" dy="12.95">GSYS_PARTITION</tspan><tspan x="5" dy="12.95">GSYS_SYS_ID</tspan><tspan x="5" dy="12.95">GSYS_SEQ</tspan><tspan x="5" dy="12.95">GSYS_USEQ</tspan><tspan x="5" dy="12.95">GSYS_TS</tspan><tspan x="5" dy="12.95">GSYS_TC</tspan><tspan x="5" dy="12.95">GSYS_EXT_VCH1</tspan><tspan x="5" dy="12.95">GSYS_EXT_VCH2</tspan><tspan x="5" dy="12.95">GSYS_EXT_INT1</tspan><tspan x="5" dy="12.95">GSYS_EXT_INT2</tspan></text>
<text><tspan x="106.5" y="29" class="u">numeric(16)</tspan><tspan x="106.5" dy="12.95">varchar(64)</tspan><tspan x="106.5" dy="12.95">int</tspan><tspan x="106.5" dy="12.95">int</tspan><tspan x="106.5" dy="12.95">varchar(255)</tspan><tspan x="106.5" dy="12.95">int</tspan><tspan x="106.5" dy="12.95">datetime</tspan><tspan x="106.5" dy="12.95">int</tspan><tspan x="106.5" dy="12.95">int</tspan><tspan x="106.5" dy="12.95">datetime</tspan><tspan x="106.5" dy="12.95">int</tspan><tspan x="106.5" dy="12.95">int</tspan><tspan x="106.5" dy="12.95">datetime</tspan><tspan x="106.5" dy="12.95">int</tspan><tspan x="106.5" dy="12.95">int</tspan><tspan x="106.5" dy="12.95">int</tspan><tspan x="106.5" dy="12.95">int</tspan><tspan x="106.5" dy="12.95">int</tspan><tspan x="106.5" dy="12.95">bigint</tspan><tspan x="106.5" dy="12.95">bigint</tspan><tspan x="106.5" dy="12.95">datetime</tspan><tspan x="106.5" dy="12.95">int</tspan><tspan x="106.5" dy="12.95">varchar(255)</tspan><tspan x="106.5" dy="12.95">varchar(255)</tspan><tspan x="106.5" dy="12.95">int</tspan><tspan x="106.5" dy="12.95">int</tspan></text>
<text><tspan x="173.5" y="29" class="u">&lt;pk,fk1&gt;</tspan><tspan x="173.5" y="54.9">&lt;fk2&gt;</tspan></text>
</g>
</svg>
